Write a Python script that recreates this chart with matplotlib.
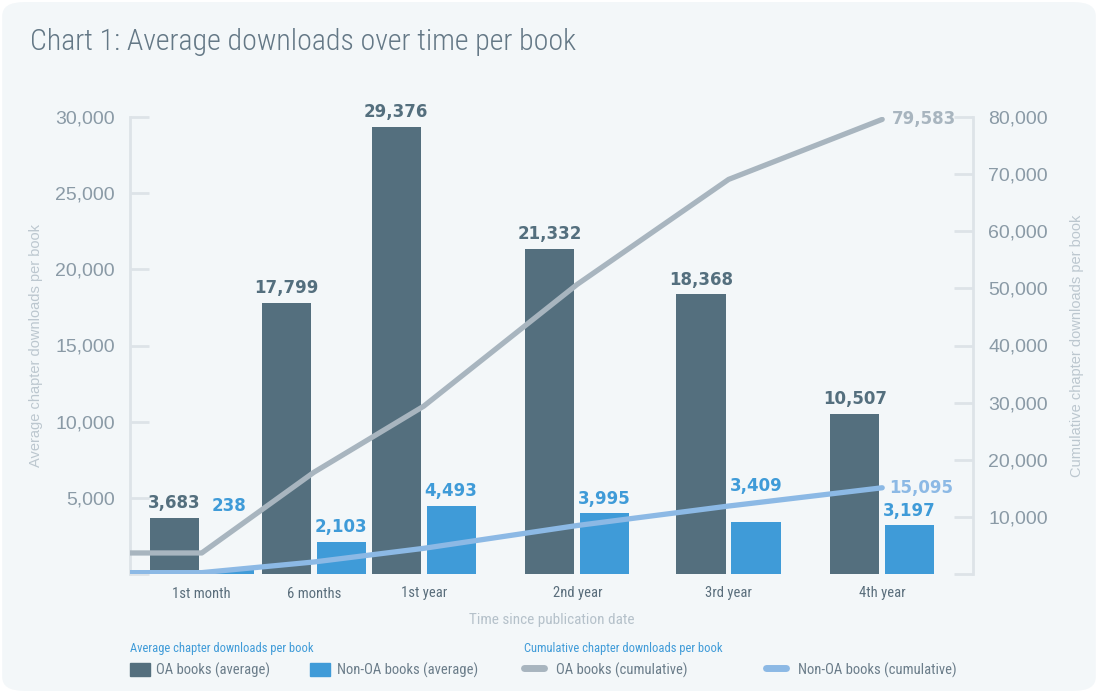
import matplotlib
matplotlib.use("Agg")
import matplotlib.pyplot as plt
from matplotlib.patches import Patch, FancyBboxPatch
from matplotlib.lines import Line2D
from matplotlib.ticker import FuncFormatter

categories = ['1st month', '6 months', '1st year', '2nd year', '3rd year', '4th year']
oa_avg = [3683, 17799, 29376, 21332, 18368, 10507]
non_oa_avg = [238, 2103, 4493, 3995, 3409, 3197]
oa_cum = [3683, 17799, 29376, 50708, 69076, 79583]
non_oa_cum = [238, 2103, 4493, 8488, 11897, 15095]

# layout of the groups along the x axis (the source spaces them unevenly)
x_pos = [0, 1, 1.98, 3.35, 4.70, 6.07]
non_oa_lift = [50, 0, 0, 0, 22, 0]  # extra label lift in px

OA_BAR = '#546f7e'
NON_OA_BAR = '#3f9bd8'
OA_LINE = '#a8b5bf'
NON_OA_LINE = '#8cb9e5'
BG = '#f3f7f9'
NARROW = ['Liberation Sans Narrow', 'Roboto Condensed', 'DejaVu Sans']


def thousands(v, pos):
    return '' if v == 0 else f'{v:,.0f}'


def main():
    fig = plt.figure(figsize=(10.98, 6.93), dpi=100, facecolor='white')
    fig.patches.append(FancyBboxPatch((0.002, 0.003), 0.996, 0.994,
                                      boxstyle='round,pad=0,rounding_size=0.02',
                                      transform=fig.transFigure, facecolor=BG,
                                      edgecolor='none', zorder=-10))

    fig.text(30 / 1098, 1 - 42 / 693, 'Chart 1: Average downloads over time per book',
             fontsize=21.5, fontweight='light', color='#647886', family=NARROW,
             va='center', ha='left')

    ax = fig.add_axes([130 / 1098, 1 - 574 / 693, 843 / 1098, 457 / 693])
    ax.set_facecolor('none')
    ax2 = ax.twinx()

    w = 0.44
    off = 0.245
    xo = [x - off for x in x_pos]
    xn = [x + off for x in x_pos]
    ax.bar(xo, oa_avg, width=w, color=OA_BAR, zorder=2)
    ax.bar(xn, non_oa_avg, width=w, color=NON_OA_BAR, zorder=2)
    ax.set_xlim(-0.64, 6.88)
    ax.set_ylim(0, 30000)
    ax2.set_ylim(0, 80000)

    for x, v in zip(xo, oa_avg):
        ax.annotate(f'{v:,}', (x, v), xytext=(0, 4), textcoords='offset points',
                    ha='center', va='bottom', fontsize=12, fontweight='bold',
                    color=OA_BAR)
    for x, v, lift in zip(xn, non_oa_avg, non_oa_lift):
        ax.annotate(f'{v:,}', (x, v), xytext=(0, 4 + lift * 0.72),
                    textcoords='offset points', ha='center', va='bottom',
                    fontsize=12, fontweight='bold', color=NON_OA_BAR)

    # cumulative lines start flat from the left edge of the plot
    left = ax.get_xlim()[0]
    ax2.plot([left] + x_pos, [oa_cum[0]] + oa_cum, color=OA_LINE, lw=3.8,
             solid_capstyle='round', solid_joinstyle='round', zorder=3)
    ax2.plot([left] + x_pos, [non_oa_cum[0]] + non_oa_cum, color=NON_OA_LINE,
             lw=3.8, solid_capstyle='round', solid_joinstyle='round', zorder=3)
    ax2.annotate(f'{oa_cum[-1]:,}', (x_pos[-1], oa_cum[-1]), xytext=(7, 0),
                 textcoords='offset points', ha='left', va='center',
                 fontsize=12, fontweight='bold', color=OA_LINE)
    ax2.annotate(f'{non_oa_cum[-1]:,}', (x_pos[-1], non_oa_cum[-1]), xytext=(5, 0),
                 textcoords='offset points', ha='left', va='center',
                 fontsize=12, fontweight='bold', color=NON_OA_LINE)

    grid = '#dde3e8'
    for a in (ax, ax2):
        for s in a.spines.values():
            s.set_visible(False)
    ax.spines['left'].set_visible(True)
    ax.spines['left'].set_color(grid)
    ax.spines['left'].set_linewidth(2)
    ax2.spines['right'].set_visible(True)
    ax2.spines['right'].set_color(grid)
    ax2.spines['right'].set_linewidth(2)

    ax.set_yticks(range(0, 30001, 5000))
    ax2.set_yticks(range(0, 80001, 10000))
    ax.yaxis.set_major_formatter(FuncFormatter(thousands))
    ax2.yaxis.set_major_formatter(FuncFormatter(thousands))
    ax.tick_params(axis='y', direction='in', length=14, width=2, color=grid,
                   labelsize=14, labelcolor='#8a9aa6', pad=11)
    ax2.tick_params(axis='y', direction='in', length=14, width=2, color=grid,
                    labelsize=14, labelcolor='#8a9aa6', pad=11)
    for t in ax.get_yticklabels() + ax2.get_yticklabels():
        t.set_family('Liberation Sans')

    ax.set_xticks(x_pos)
    ax.set_xticklabels(categories, family=NARROW, fontsize=10.5, color='#5a6e7c')
    ax.tick_params(axis='x', length=0, pad=9)
    ax.set_xlabel('Time since publication date', family=NARROW, fontsize=11,
                  color='#b5c1ca', labelpad=9)

    ax.set_ylabel('Average chapter downloads per book', family='Liberation Sans',
                  fontsize=10.5, color='#bcc7cf', labelpad=9)
    ax2.set_ylabel('Cumulative chapter downloads per book', family='Liberation Sans',
                   fontsize=10.5, color='#bcc7cf', labelpad=16)

    # legends
    h1 = [Patch(color=OA_BAR), Patch(color=NON_OA_BAR)]
    l1 = ['OA books (average)', 'Non-OA books (average)']
    h2 = [Line2D([], [], color=OA_LINE, lw=5, solid_capstyle='round'),
          Line2D([], [], color=NON_OA_LINE, lw=5, solid_capstyle='round')]
    l2 = ['OA books (cumulative)', 'Non-OA books (cumulative)']
    for hs, ls, title, x, sp, tp in (
            (h1, l1, 'Average chapter downloads per book', 130, 2.75, 0.45),
            (h2, l2, 'Cumulative chapter downloads per book', 524, 5.4, 0.85)):
        leg = fig.legend(hs, ls, ncol=2, loc='upper left', frameon=False,
                         bbox_to_anchor=(x / 1098, 1 - 642 / 693), borderpad=0,
                         borderaxespad=0, handlelength=1.35, handleheight=1.0,
                         handletextpad=tp, columnspacing=sp, title=title,
                         alignment='left', prop={'family': NARROW, 'size': 10.5})
        leg.get_title().set_color(NON_OA_BAR)
        leg.get_title().set_fontsize(9)
        leg.get_title().set_family(NARROW)
        for t in leg.get_texts():
            t.set_color('#6b7d8a')

    fig.savefig('out.png', dpi=100, facecolor='white')
    plt.close(fig)


if __name__ == "__main__":
    main()
